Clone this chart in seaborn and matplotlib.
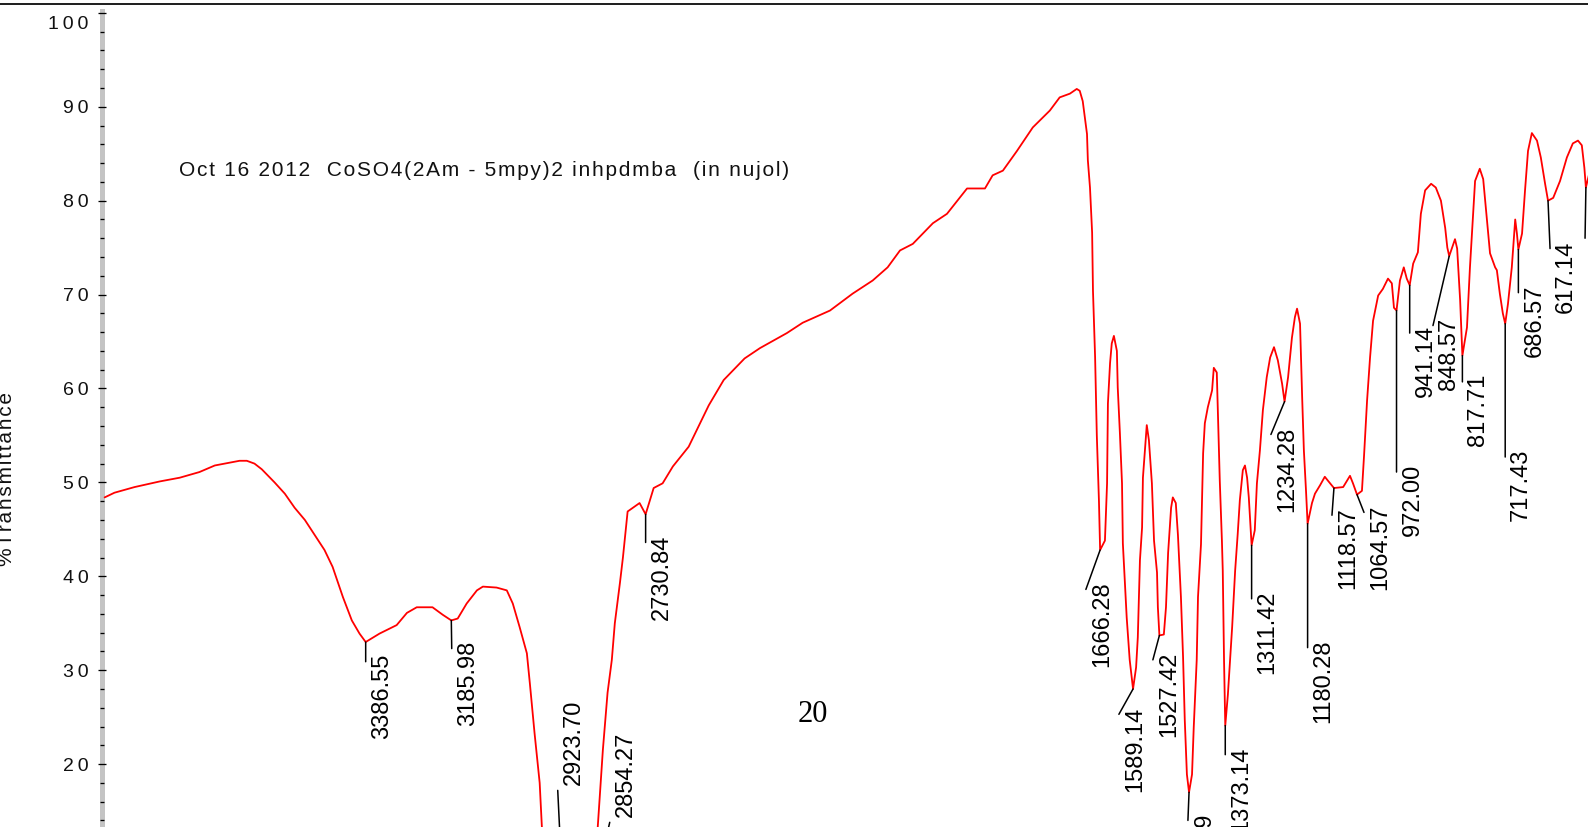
import matplotlib
matplotlib.use("Agg")
import matplotlib.pyplot as plt
from matplotlib.lines import Line2D
from matplotlib.ticker import MultipleLocator, FixedLocator
import seaborn as sns
import pandas as pd

# ---------------- data ----------------
wavenumber = [3998, 3975, 3928, 3869, 3822, 3776, 3740, 3705, 3682, 3665, 3647, 3630, 3600, 3576, 3553,
              3529, 3506, 3483, 3464, 3440, 3419, 3401, 3386.55, 3354, 3314, 3290, 3267, 3230, 3206,
              3185.98, 3171, 3150, 3126, 3112, 3080, 3056, 3042, 3026, 3009, 3002, 2991, 2979, 2974,
              2960, 2923.70, 2897, 2854.27, 2843, 2831, 2820, 2810, 2803, 2791, 2784, 2773, 2745,
              2730.84, 2712, 2691, 2667, 2630, 2583, 2548, 2499, 2463, 2400, 2363, 2299, 2246, 2199,
              2164, 2135, 2105, 2058, 2025, 1978, 1936, 1918, 1894, 1861, 1824, 1784, 1761, 1737, 1721,
              1714, 1707, 1697, 1695, 1690, 1685, 1683, 1678, 1674, 1669, 1666.28, 1655, 1650, 1648,
              1643, 1639, 1634, 1627, 1625, 1620, 1615, 1613, 1604, 1597, 1589.14, 1582, 1578, 1573,
              1568, 1566, 1561, 1557, 1552, 1545, 1540, 1533, 1531, 1527.42, 1517, 1512, 1507, 1500,
              1496, 1489, 1484, 1477, 1472, 1468, 1463, 1457.99, 1451, 1447, 1440, 1437, 1430, 1425,
              1421, 1414, 1404, 1400, 1393, 1390, 1386, 1381, 1379, 1376, 1373.14, 1367, 1357, 1350,
              1344, 1339, 1332, 1327, 1322, 1318, 1311.42, 1304, 1299, 1292, 1285, 1276, 1268, 1259,
              1250, 1240, 1234.28, 1226, 1217, 1210, 1205, 1198, 1193, 1189, 1184, 1180.28, 1170, 1163,
              1151, 1140, 1133, 1118.57, 1097, 1081, 1074, 1064.57, 1053, 1048, 1041, 1034, 1027, 1015,
              1004, 992, 983, 978, 972.00, 964, 955, 948, 941.14, 933, 922, 915, 905, 891, 880, 868,
              858, 853, 848.57, 835, 830, 823, 817.71, 807, 800, 793, 788, 777, 769, 763, 753, 741,
              737, 730, 723, 717.43, 711, 702, 694, 690, 686.57, 678, 671, 664, 655, 643, 634, 624,
              617.14, 605, 589, 573, 559, 547, 538, 532, 528.43, 520]
transmittance = [48.4, 48.9, 49.5, 50.1, 50.5, 51.1, 51.8, 52.1, 52.3, 52.3, 52.0, 51.4, 50.0, 48.8, 47.3,
                 46.0, 44.4, 42.8, 41.0, 37.8, 35.3, 33.9, 33.0, 33.9, 34.8, 36.1, 36.7, 36.7, 35.9,
                 35.3, 35.5, 37.1, 38.5, 38.9, 38.8, 38.5, 37.1, 34.6, 31.8, 28.6, 23.3, 18.0, 13.3,
                 8.0, 5.0, 7.5, 6.0, 13.3, 21.5, 27.6, 31.1, 35.0, 39.3, 42.0, 46.9, 47.8,
                 46.6, 49.4, 49.9, 51.7, 53.8, 58.2, 60.9, 63.2, 64.3, 65.9, 67.0, 68.3, 70.1, 71.5,
                 72.9, 74.7, 75.4, 77.6, 78.6, 81.3, 81.3, 82.7, 83.2, 85.3, 87.8, 89.6, 91.0, 91.4, 91.9,
                 91.7, 90.6, 87.1, 84.3, 81.4, 76.6, 70.4, 63.3, 55.0, 48.0, 42.8, 43.8, 49.9, 58.4,
                 62.7, 64.8, 65.6, 64.0, 60.1, 55.3, 49.9, 43.5, 35.6, 31.1, 28.0, 30.3, 33.5, 41.7,
                 45.2, 50.5, 53.7, 56.1, 54.5, 49.9, 43.8, 40.4, 36.7, 33.7, 33.8, 36.7, 42.5, 47.3,
                 48.4, 47.8, 44.4, 37.8, 31.4, 24.7, 18.9, 17.0, 18.9, 23.9, 31.1, 37.8, 43.4, 53.1,
                 56.3, 58.0, 59.8, 62.2, 61.7, 56.9, 50.2, 43.8, 40.6, 31.0, 24.1, 27.4, 34.6, 40.6,
                 44.5, 48.1, 51.3, 51.8, 50.5, 48.4, 43.3, 44.9, 49.9, 53.4, 57.7, 61.2, 63.3, 64.4,
                 63.0, 60.5, 58.6, 61.2, 65.4, 67.6, 68.5, 66.9, 59.0, 53.4, 49.1, 45.6, 47.8, 48.8,
                 49.7, 50.6, 50.2, 49.4, 49.5, 50.7, 49.9, 48.7, 49.1, 52.9, 58.7, 63.3, 67.2, 69.9,
                 70.6, 71.7, 71.2, 68.6, 68.3, 71.5, 72.9, 71.7, 71.0, 73.3, 74.5, 78.6, 81.1, 81.8, 81.4, 80.0,
                 77.1, 75.0, 74.1, 75.9, 74.9, 69.4, 63.5, 66.5, 72.9, 78.2, 82.1, 83.4, 82.3, 79.3, 74.4, 72.9,
                 72.6, 70.1, 68.0, 66.9, 69.0, 72.9, 78.0, 76.5, 74.8, 76.5, 81.1, 85.3, 87.2, 86.4, 84.6, 81.8,
                 80.0, 80.3, 82.1, 84.6, 86.1, 86.4, 85.9, 83.5, 81.4, 83.0]

# the last peak's label lies outside the visible picture, so only its leader is drawn
peak_labels = ["3386.55", "3185.98", "2923.70", "2854.27", "2730.84", "1666.28", "1589.14",
               "1527.42", "1457.99", "1373.14", "1311.42", "1234.28", "1180.28", "1118.57",
               "1064.57", "972.00", "941.14", "848.57", "817.71", "717.43", "686.57", "617.14",
               ""]
peak_wavenumber = [3386.55, 3185.98, 2923.70, 2854.27, 2730.84, 1666.28, 1589.14, 1527.42,
                   1457.99, 1373.14, 1311.42, 1234.28, 1180.28, 1118.57, 1064.57, 972.00,
                   941.14, 848.57, 817.71, 717.43, 686.57, 617.14, 528.43]
peak_transmittance = [33.0, 35.3, 5.0, 6.0, 46.6, 42.8, 28.0, 33.7, 17.0, 24.1, 43.3, 58.6,
                      45.6, 49.4, 48.7, 68.3, 71.0, 74.1, 63.5, 66.9, 74.8, 80.0, 81.4]

y_ticks = [20, 30, 40, 50, 60, 70, 80, 90, 100]
title_text = "Oct 16 2012  CoSO4(2Am - 5mpy)2 inhpdmba  (in nujol)"
y_label = "%Transmittance"
page_number = "20"

# ---------------- layout (leader-line ends, in data units) ----------------
leader_end_wn = [3386.55, 3185.0, 2936.7, 2814.9, 2730.84, 1699.6, 1622.3, 1542.7, 1460.6,
                 1373.14, 1311.42, 1266.2, 1180.28, 1123.2, 1048.2, 972.0, 941.14, 886.6,
                 817.71, 717.43, 686.57, 612.4, 530.4]
leader_end_t = [30.9, 32.3, 17.2, 13.8, 43.6, 38.6, 25.3, 31.1, 14.0, 21.0, 37.6, 55.1, 32.4,
                46.5, 46.8, 51.1, 65.9, 66.7, 60.7, 52.7, 70.2, 74.9, 76.0]
label_above = [False, False, True, True] + [False] * 19

# ---------------- styling ----------------
sns.set_style("white")
plt.rcParams["font.family"] = ["Liberation Sans", "DejaVu Sans"]

W, H = 1588, 827
PX = 72.0 / 100.0  # points per pixel
fig = plt.figure(figsize=(W / 100, H / 100), dpi=100)
fig.patch.set_facecolor("white")

ax_left = 102.5
ax = fig.add_axes([ax_left / W, 0.0, 1 - ax_left / W, (H - 11) / H])
ax.set_facecolor("white")

df = pd.DataFrame({"wavenumber": wavenumber, "transmittance": transmittance})
sns.lineplot(data=df, x="wavenumber", y="transmittance", sort=False, estimator=None,
             color="#ff0000", linewidth=1.3, ax=ax, legend=False)

ax.set_xlim(4003, 523.5)
ax.set_ylim(13.3, 100.2)
ax.set_xlabel("")
ax.set_ylabel("")

for s in ["top", "right", "bottom"]:
    ax.spines[s].set_visible(False)
ax.spines["left"].set_color("#c4c4c4")
ax.spines["left"].set_linewidth(5 * PX)
ax.spines["left"].set_zorder(0.5)

def spaced(s, sp="\u2009"):
    return sp.join(s)

ax.yaxis.set_major_locator(FixedLocator(y_ticks))
ax.yaxis.set_minor_locator(MultipleLocator(2))
ax.set_yticks(y_ticks)
ax.set_yticklabels([spaced(str(t)) if t != 100 else "" for t in y_ticks])
ax.tick_params(axis="y", which="major", direction="inout", length=8 * PX, width=1.3 * PX,
               color="black", pad=10 * PX, labelsize=14, labelcolor="#111111", left=True)
ax.tick_params(axis="y", which="minor", direction="inout", length=4 * PX, width=1.3 * PX,
               color="black", left=True)
ax.tick_params(axis="x", which="both", bottom=False, labelbottom=False)
ax.grid(False)

# the 100 label sits lower than its tick
ax.annotate(spaced("100"), xy=(0, 100), xycoords=("axes fraction", "data"),
            xytext=(-14 * PX, -12 * PX), textcoords="offset points",
            ha="right", va="center", fontsize=14, color="#111111", annotation_clip=False)

# peak leader lines and labels
for lab, pw, pt, ew, et, above in zip(peak_labels, peak_wavenumber, peak_transmittance,
                                      leader_end_wn, leader_end_t, label_above):
    ax.annotate("", xy=(pw, pt), xytext=(ew, et), xycoords="data", textcoords="data",
                arrowprops=dict(arrowstyle="-", color="black", lw=1.1,
                                shrinkA=0, shrinkB=0), annotation_clip=False)
    if not lab:
        continue
    if above:
        off = (5.0 * PX, 5 * PX)
        va = "bottom"
    else:
        off = (5.0 * PX, 8 * PX)
        va = "top"
    ax.annotate(lab, xy=(ew, et), xytext=off, textcoords="offset points",
                rotation=90, ha="left", va=va, fontsize=17, color="black",
                annotation_clip=False)

# title annotation
fig.text(179 / W, 1 - 171 / H, spaced(title_text, "\u200a"), ha="left", va="center",
         fontsize=15, color="#111111")

# y axis label (partly cut off at the left edge)
fig.text(7 / W, 1 - 479 / H, spaced(y_label, "\u200a"), rotation=90, ha="center",
         va="center", fontsize=15, color="#111111")

# page number
fig.text(813 / W, 1 - 714 / H, page_number, ha="center", va="center", fontsize=22,
         family=["Liberation Serif", "DejaVu Serif"], color="black")

# top border line
fig.add_artist(Line2D([0, 1], [1 - 3.5 / H, 1 - 3.5 / H], transform=fig.transFigure,
                      color="#222222", linewidth=2 * PX))

fig.savefig("out.png", dpi=100, facecolor="white")
